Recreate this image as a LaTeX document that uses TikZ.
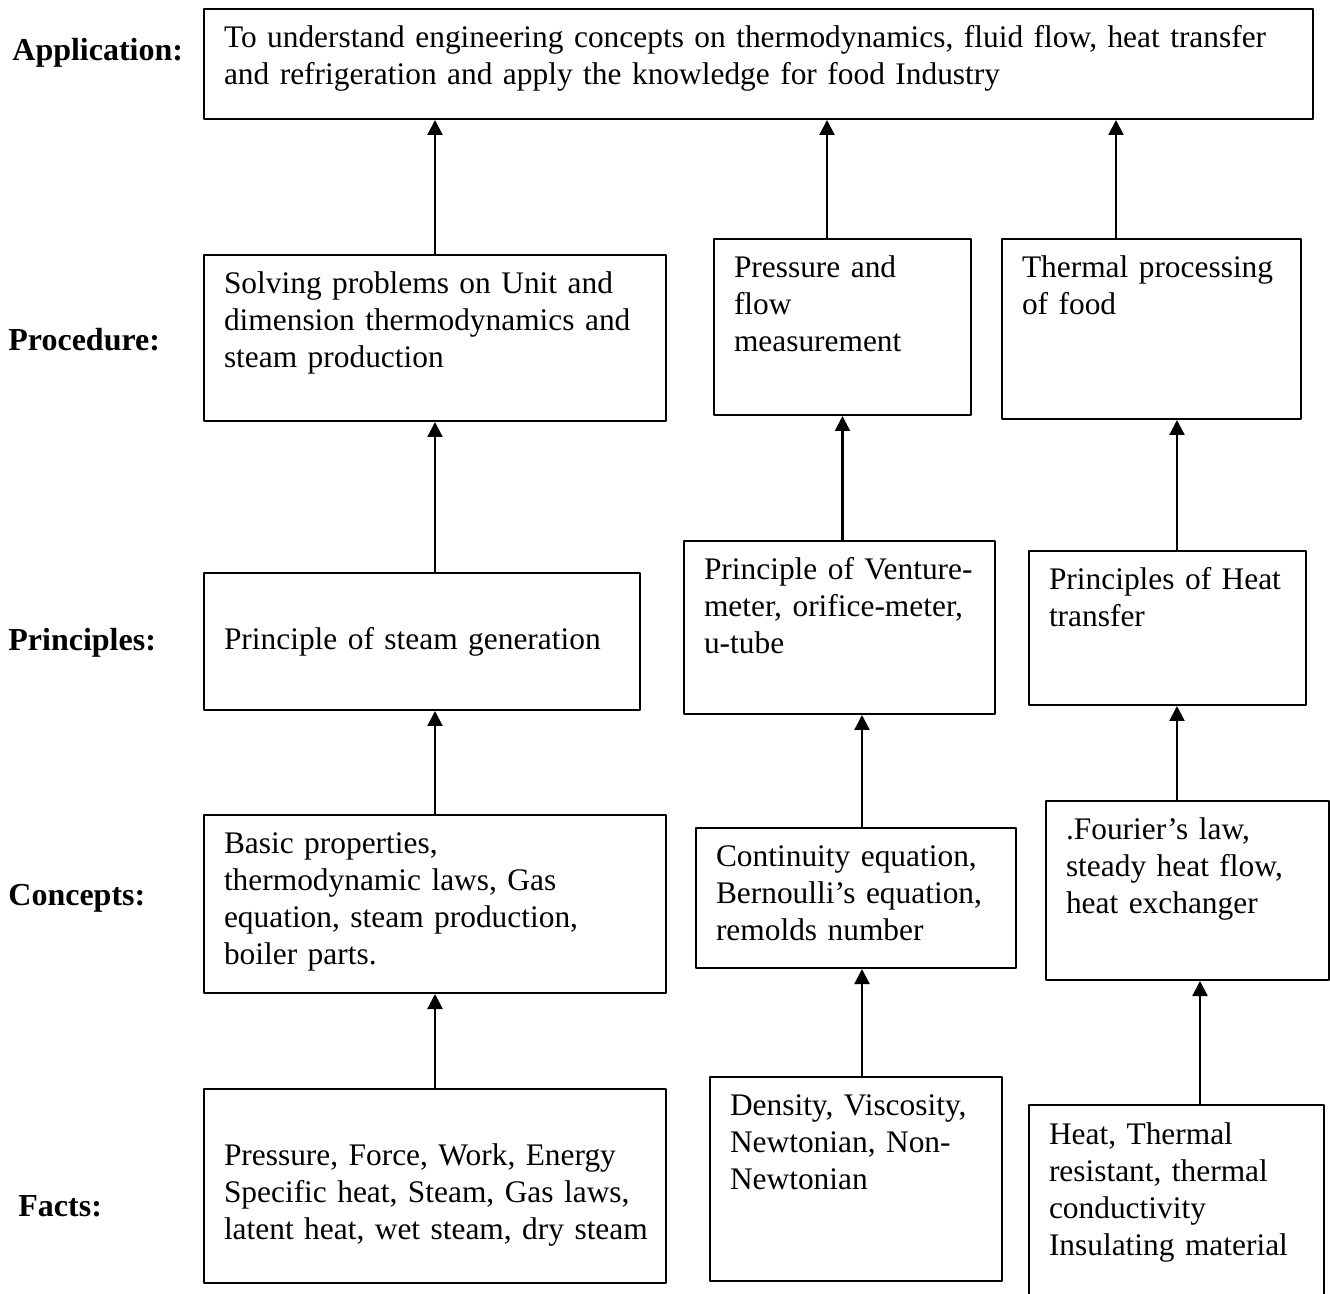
\documentclass[tikz,border=0pt]{standalone}
\usepackage{fontspec}
\setmainfont{Liberation Serif}
\usetikzlibrary{arrows.meta}
\tikzset{
  blk/.style={draw, line width=1pt, anchor=north west, inner xsep=10pt, inner ysep=6.5pt,
    align=left, text height=13pt, font=\fontsize{15.7}{18.5}\selectfont,
    execute at begin node={\rightskip=-10pt plus 1fil\relax}},
  lbl/.style={anchor=base west, inner sep=0pt, font=\fontsize{16}{18.5}\selectfont\bfseries},
  up/.style={-{Triangle[length=7.5pt,width=7.5pt]}, line width=1.1pt}
}
\begin{document}
\begin{tikzpicture}[x=0.5pt, y=-0.5pt, line join=round]
    \path[use as bounding box, clip] (0,0) rectangle (1330,1294);
    % row labels
    \node[lbl] (lapp) at (12,61) {Application:};
    \node[lbl] (lproc) at (8,351) {Procedure:};
    \node[lbl] (lprin) at (8,651) {Principles:};
    \node[lbl] (lcon) at (8,906) {Concepts:};
    \node[lbl] (lfact) at (18,1216) {Facts:};
    % application
    \node[blk, text width=534.5pt, text depth=29pt] (app) at (203,8)
      {To understand engineering concepts on thermodynamics, fluid flow, heat transfer\\and refrigeration and apply the knowledge for food Industry};
    % procedure
    \node[blk, text width=211pt, text depth=57pt] (P1) at (203,254)
      {Solving problems on Unit and\\dimension thermodynamics and\\steam production};
    \node[blk, text width=108.5pt, text depth=62pt] (P2) at (713,238)
      {Pressure and\\flow\\measurement};
    \node[blk, text width=129.5pt, text depth=64pt] (P3) at (1001,238)
      {Thermal processing\\of food};
    % principles
    \node[blk, text width=198pt, text height=32pt, text depth=23.5pt] (R1) at (203,572)
      {Principle of steam generation};
    \node[blk, text width=135.5pt, text depth=60.5pt] (R2) at (683,540)
      {Principle of Venture-\\meter, orifice-meter,\\u-tube};
    \node[blk, text width=118.5pt, text depth=51pt] (R3) at (1028,550)
      {Principles of Heat\\transfer};
    % concepts
    \node[blk, text width=211pt, text depth=63pt] (C1) at (203,814)
      {Basic properties,\\thermodynamic laws, Gas\\equation, steam production,\\boiler parts.};
    \node[blk, text width=140pt, text depth=44pt] (C2) at (695,827)
      {Continuity equation,\\Bernoulli’s equation,\\remolds number};
    \node[blk, text width=121.5pt, text depth=63.5pt] (C3) at (1045,800)
      {.Fourier’s law,\\steady heat flow,\\heat exchanger};
    % facts
    \node[blk, text width=211pt, text height=31.5pt, text depth=52.5pt] (F1) at (203,1088)
      {Pressure, Force, Work, Energy\\Specific heat, Steam, Gas laws,\\latent heat, wet steam, dry steam};
    \node[blk, text width=126pt, text depth=76pt] (F2) at (709,1076)
      {Density, Viscosity,\\Newtonian, Non-\\Newtonian};
    \node[blk, text width=127.5pt, text depth=74pt] (F3) at (1028,1104)
      {Heat, Thermal\\resistant, thermal\\conductivity\\Insulating material};
    % arrows
    \draw[up] (P1.north) -- (P1.north |- app.south);
    \draw[up] ([xshift=-7.75pt]P2.north) -- ([xshift=-7.75pt]P2.north |- app.south);
    \draw[up] ([xshift=-17.75pt]P3.north) -- ([xshift=-17.75pt]P3.north |- app.south);
    \draw[up] (R1.north -| P1.south) -- (P1.south);
    \draw[up] (R2.north -| P2.south) -- (P2.south);
    \draw[up] ([xshift=4.75pt]R3.north) -- ([xshift=4.75pt]R3.north |- P3.south);
    \draw[up] (C1.north) -- (C1.north |- R1.south);
    \draw[up] ([xshift=3pt]C2.north) -- ([xshift=3pt]C2.north |- R2.south);
    \draw[up] ([xshift=-5.25pt]C3.north) -- ([xshift=-5.25pt]C3.north |- R3.south);
    \draw[up] (F1.north) -- (F1.north |- C1.south);
    \draw[up] ([xshift=3pt]F2.north) -- ([xshift=3pt]F2.north |- C2.south);
    \draw[up] ([xshift=11.75pt]F3.north) -- ([xshift=11.75pt]F3.north |- C3.south);
\end{tikzpicture}
\end{document}
